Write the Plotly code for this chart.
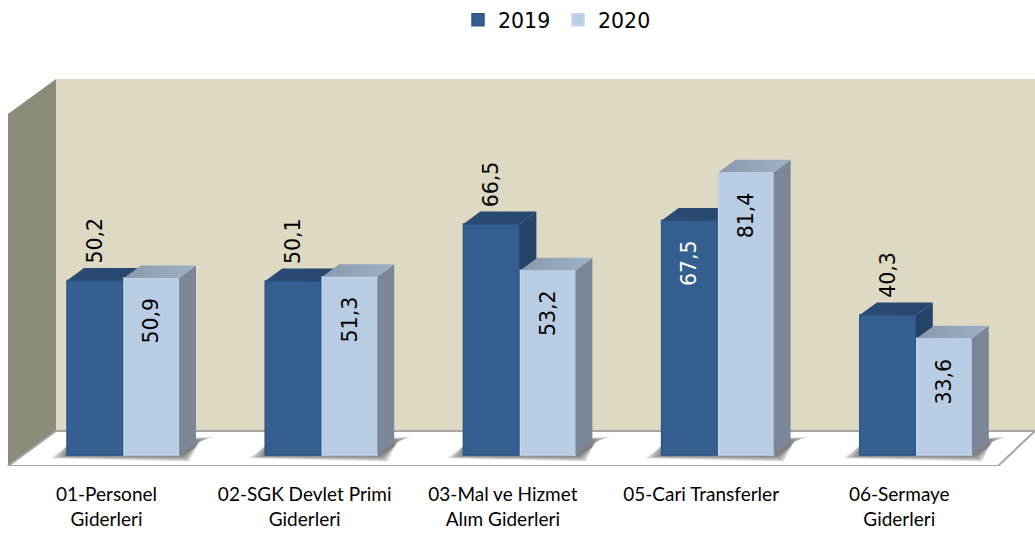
import plotly.graph_objects as go

categories = ["01-Personel<br>Giderleri", "02-SGK Devlet Primi<br>Giderleri",
              "03-Mal ve Hizmet<br>Alım Giderleri", "05-Cari Transferler", "06-Sermaye<br>Giderleri"]
values_2019 = [50.2, 50.1, 66.5, 67.5, 40.3]
values_2020 = [50.9, 51.3, 53.2, 81.4, 33.6]
labels_2019 = ["50,2", "50,1", "66,5", "67,5", "40,3"]
labels_2020 = ["50,9", "51,3", "53,2", "81,4", "33,6"]

W, H = 1035, 535
FLOOR_Y = 466
BASE_Y = 455
PX_PER_UNIT = 3.475
PITCH = 198.2
TICK0 = 106.5


def X(px):
    return (px - TICK0) / PITCH


def Y(py):
    return (BASE_Y - py) / PX_PER_UNIT


DX = 17 / PITCH
DY = 12.5 / PX_PER_UNIT
xr = [X(0), X(W)]
yr = [Y(FLOOR_Y), Y(0)]
idx = list(range(len(categories)))

D_OFF, D_W = X(67) - X(106.5), 56 / PITCH
L_OFF, L_W = X(124) - X(106.5), 55 / PITCH


def poly(pts, fill, layer="below", line=None):
    path = "M" + "L".join(f"{X(a):.5f},{Y(b):.5f}" for a, b in pts) + "Z"
    return dict(type="path", xref="x", yref="y", path=path, fillcolor=fill, layer=layer,
                line=line or dict(width=0))


shapes = [
    poly([(56, 79), (W, 79), (W, 431), (56, 431)], "#DDD9C3"),
    poly([(8, 114), (56, 79), (56, 431), (8, 466)], "#8D8B79"),
    poly([(8, 466), (56, 431), (W, 431), (998, 466)], "#FFFFFF",
         line=dict(color="#A6A6A6", width=2)),
]

# soft floor shadow behind every pair of bars
for i in idx:
    left = TICK0 + i * PITCH - 39.5
    right = left + 112
    for k in range(6):
        g = (5 - k) * 3.6
        shapes.append(poly([(left - g * 0.9, 456 + g * 0.12), (left + 4, 443 - k), (right + 17 + g, 437 + k * 0.6),
                            (right + 17 + g * .2, 441 + k * 1.2), (right + 3 + g * .4, 456 + g * 0.3)],
                           "rgba(60,60,60,0.16)"))

fig = go.Figure()


def faces(vals, off, width, top_cols, side_col, xa, ya):
    for i, v in zip(idx, vals):
        l = i + off
        r = l + width
        fig.add_trace(go.Scatter(
            x=[r, r + DX, r + DX, r], y=[0, DY, v + DY, v], fill="toself", mode="none",
            fillcolor=side_col, showlegend=False, hoverinfo="skip", xaxis=xa, yaxis=ya))
        fig.add_trace(go.Scatter(
            x=[l, l + DX, r + DX, r], y=[v, v + DY, v + DY, v], fill="toself", mode="none",
            fillgradient=dict(type="horizontal", colorscale=[[0, top_cols[0]], [1, top_cols[1]]]),
            showlegend=False, hoverinfo="skip", xaxis=xa, yaxis=ya))


fig.add_trace(go.Bar(name="2019", x=idx, y=values_2019, width=D_W, offset=D_OFF,
                     marker=dict(color="#355F91", line=dict(color="#2F5685", width=1.5)),
                     hoverinfo="skip", xaxis="x", yaxis="y"))
faces(values_2019, D_OFF, D_W, ("#2B4C75", "#27466D"), "#254469", "x", "y")
fig.add_trace(go.Bar(name="2020", x=idx, y=values_2020, width=L_W, offset=L_OFF,
                     marker=dict(color="#B8CCE4", line=dict(color="#C3D6EE", width=1.5)),
                     hoverinfo="skip", xaxis="x2", yaxis="y2"))
faces(values_2020, L_OFF, L_W, ("#8A99AD", "#9FB0C6"), "#7B8797", "x2", "y2")

annotations = []
for i in idx:
    v, t = values_2019[i], labels_2019[i]
    inside = v >= 67
    annotations.append(dict(
        x=i + D_OFF + D_W / 2, y=v, text=t, textangle=-90, showarrow=False,
        yanchor="top" if inside else "bottom", yshift=-18 if inside else 15,
        font=dict(family="DejaVu Sans", size=20.5, color="#FFFFFF" if inside else "#000000")))
    annotations.append(dict(
        x=i + L_OFF + L_W / 2, y=values_2020[i], text=labels_2020[i], textangle=-90,
        showarrow=False, yanchor="top", yshift=-18,
        xref="x", yref="y",
        font=dict(family="DejaVu Sans", size=20.5, color="#000000")))

fig.update_layout(
    width=W, height=H, autosize=False,
    margin=dict(l=0, r=0, t=0, b=H - FLOOR_Y),
    paper_bgcolor="#FFFFFF", plot_bgcolor="#FFFFFF",
    barmode="overlay",
    shapes=shapes, annotations=annotations,
    showlegend=True,
    legend=dict(orientation="h", x=458 / W, xanchor="left", y=1.0, yanchor="top",
                entrywidth=55, entrywidthmode="pixels",
                font=dict(family="DejaVu Sans", size=20.5, color="#000000"),
                bgcolor="rgba(0,0,0,0)", itemclick=False, itemdoubleclick=False),
    xaxis=dict(range=xr, tickmode="array", tickvals=idx, ticktext=categories,
               showgrid=False, zeroline=False, showline=False, ticks="",
               ticklabelstandoff=15,
               tickfont=dict(family="Lato", size=19, color="#000000")),
    yaxis=dict(range=yr, visible=False, showgrid=False, zeroline=False),
    xaxis2=dict(range=xr, overlaying="x", anchor="y2", visible=False, showgrid=False, zeroline=False),
    yaxis2=dict(range=yr, overlaying="y", anchor="x2", visible=False, showgrid=False, zeroline=False),
)
fig.write_html("out.html", config=dict(displayModeBar=False),
               post_script="document.body.style.margin='0';document.documentElement.style.overflow='hidden';")
